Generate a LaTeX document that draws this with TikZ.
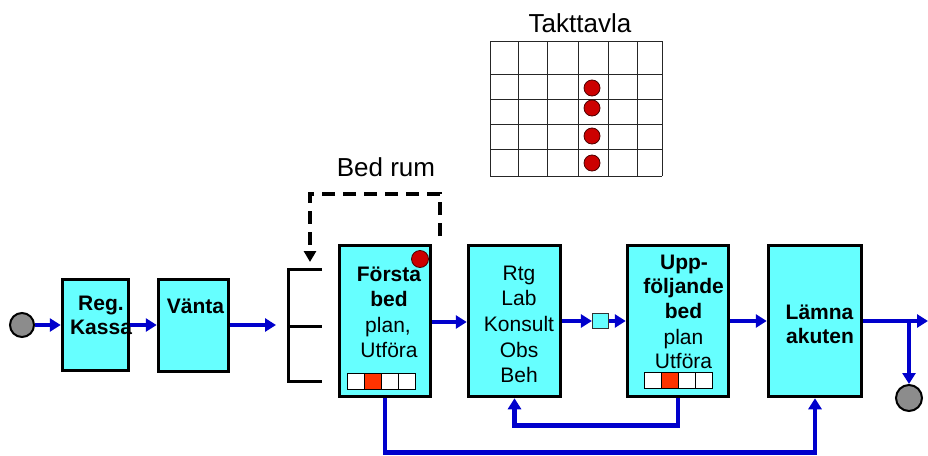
\documentclass[tikz,border=0pt]{standalone}
\usepackage{fontspec}
\setmainfont{Liberation Sans}
\usetikzlibrary{arrows.meta}
\definecolor{boxcyan}{RGB}{102,255,255}
\definecolor{flowblue}{RGB}{0,0,204}
\definecolor{dotred}{RGB}{204,0,0}
\definecolor{barred}{RGB}{255,51,0}
\definecolor{circgray}{RGB}{140,140,140}
\begin{document}
\begin{tikzpicture}[x=1pt,y=-1pt,
  box/.style={draw=black,line width=3.5pt,fill=boxcyan,inner sep=0pt},
  txt/.style={font=\fontsize{21}{25}\selectfont,inner sep=0pt,anchor=base},
  btxt/.style={txt,font=\fontsize{21}{25}\selectfont\bfseries},
  ttl/.style={font=\fontsize{26}{30}\selectfont,inner sep=0pt,anchor=base},
  flow/.style={draw=flowblue,line width=4.5pt,-{Triangle[length=11pt,width=13pt]}},
  flowline/.style={draw=flowblue,line width=4.5pt},
  endcirc/.style={circle,draw=black,line width=2pt,fill=circgray,inner sep=0pt},
  reddot/.style={circle,draw=black!70!red,line width=0.8pt,fill=dotred,inner sep=0pt,minimum size=16pt},
  cell/.style={draw=black,line width=0.8pt,fill=white}]
\useasboundingbox (0,0) rectangle (928,455);

% Takttavla
\node[ttl] (tt) at (580,32) {Takttavla};
\foreach \xx in {490,518,547,578,608,637,662}
  \draw[black!85,line width=1pt] (\xx,41) -- (\xx,176);
\foreach \yy in {41,74,99,124,149,176}
  \draw[black!85,line width=1pt] (490,\yy) -- (662,\yy);
\node[reddot] (d1) at (592,88) {};
\node[reddot] (d2) at (592,108) {};
\node[reddot] (d3) at (592,136) {};
\node[reddot] (d4) at (592,163) {};

% Boxes
\node[box,minimum width=66pt,minimum height=91pt] (kassa) at (95.5,325) {};
\node[box,minimum width=70pt,minimum height=92pt] (vanta) at (193.5,325.5) {};
\node[box,minimum width=91pt,minimum height=151pt] (forsta) at (385,321) {};
\node[box,minimum width=92pt,minimum height=151pt] (rtg) at (514.5,321) {};
\node[box,minimum width=101pt,minimum height=151pt] (upp) at (678,321) {};
\node[box,minimum width=93pt,minimum height=151pt] (lamna) at (815,321) {};
\node[draw=black!80,line width=1.2pt,fill=boxcyan,minimum width=16pt,minimum height=15pt,inner sep=0pt] (sq) at (600.5,321) {};

% Texts
\node[btxt] (k1) at (101,310) {Reg.};
\node[btxt] (k2) at (101,334) {Kassa};
\node[btxt] (v1) at (195.5,313) {Vänta};
\node[btxt] (f1) at (389,281) {Första};
\node[btxt] (f2) at (389,306) {bed};
\node[txt] (f3) at (388,332) {plan,};
\node[txt] (f4) at (389,357) {Utföra};
\node[txt] (r1) at (519,280) {Rtg};
\node[txt] (r2) at (519,305) {Lab};
\node[txt] (r3) at (519,331) {Konsult};
\node[txt] (r4) at (519,357) {Obs};
\node[txt] (r5) at (519,382) {Beh};
\node[btxt] (u1) at (684,269) {Upp-};
\node[btxt] (u2) at (683.5,293) {följande};
\node[btxt] (u3) at (683.5,318) {bed};
\node[txt] (u4) at (683.5,344) {plan};
\node[txt] (u5) at (683.5,368) {Utföra};
\node[btxt] (l1) at (819.5,319) {Lämna};
\node[btxt] (l2) at (820,343) {akuten};
\node[ttl] (bedrum) at (386,176) {Bed rum};

% red circle and bars
\node[reddot,minimum size=17pt] (fdot) at (420,259) {};
\foreach \i/\c in {0/white,1/barred,2/white,3/white}{
  \node[cell,fill=\c,minimum width=17pt,minimum height=16pt,inner sep=0pt] (fb\i) at (355.5+17*\i,381) {};
  \node[cell,fill=\c,minimum width=17pt,minimum height=16pt,inner sep=0pt] (ub\i) at (652.5+17*\i,380.5) {};
}

% start / end circles
\node[endcirc,minimum size=24pt] (start) at (22,325) {};
\node[endcirc,minimum size=26pt] (stop) at (909,398) {};

% coordinates
\coordinate (inq) at (276,325);
\coordinate (outend) at (928,321);
\coordinate (branch) at (909,321);
\coordinate (dstart) at (440,236);
\coordinate (dtip) at (310,262);
\coordinate (bt) at (288,269);
\coordinate (bm) at (288,326);
\coordinate (bb) at (288,381);

% bracket
\draw[black,line width=3pt] (bt -| 322,0) -- (bt) -- (bb) -- (bb -| 322,0);
\draw[black,line width=3pt] (bm) -- (bm -| 322,0);

% dashed bed rum
\draw[black,line width=4.5pt,dash pattern=on 13pt off 8pt,-{Triangle[length=11pt,width=12pt]}]
  (dstart) -- (dstart |- 0,194) -| (dtip);

% flows
\draw[flow] (start) -- (kassa.west |- start);
\draw[flow] (kassa.east |- 0,325) -- (vanta.west |- 0,325);
\draw[flow] (vanta.east |- inq) -- (inq);
\draw[flow] (forsta.east |- 0,322) -- (rtg.west |- 0,322);
\draw[flow] (rtg.east) -- (sq.west);
\draw[flow] (sq.east) -- (upp.west);
\draw[flow] (upp.east) -- (lamna.west);
\draw[flow] (lamna.east) -- (outend);
\draw[flow] (branch) -- (stop.north);
\draw[flow] (forsta.south) -- ++(0,54) -| (lamna.south);
\draw[flow] (upp.south) -- ++(0,27) -| (rtg.south);
\end{tikzpicture}
\end{document}
